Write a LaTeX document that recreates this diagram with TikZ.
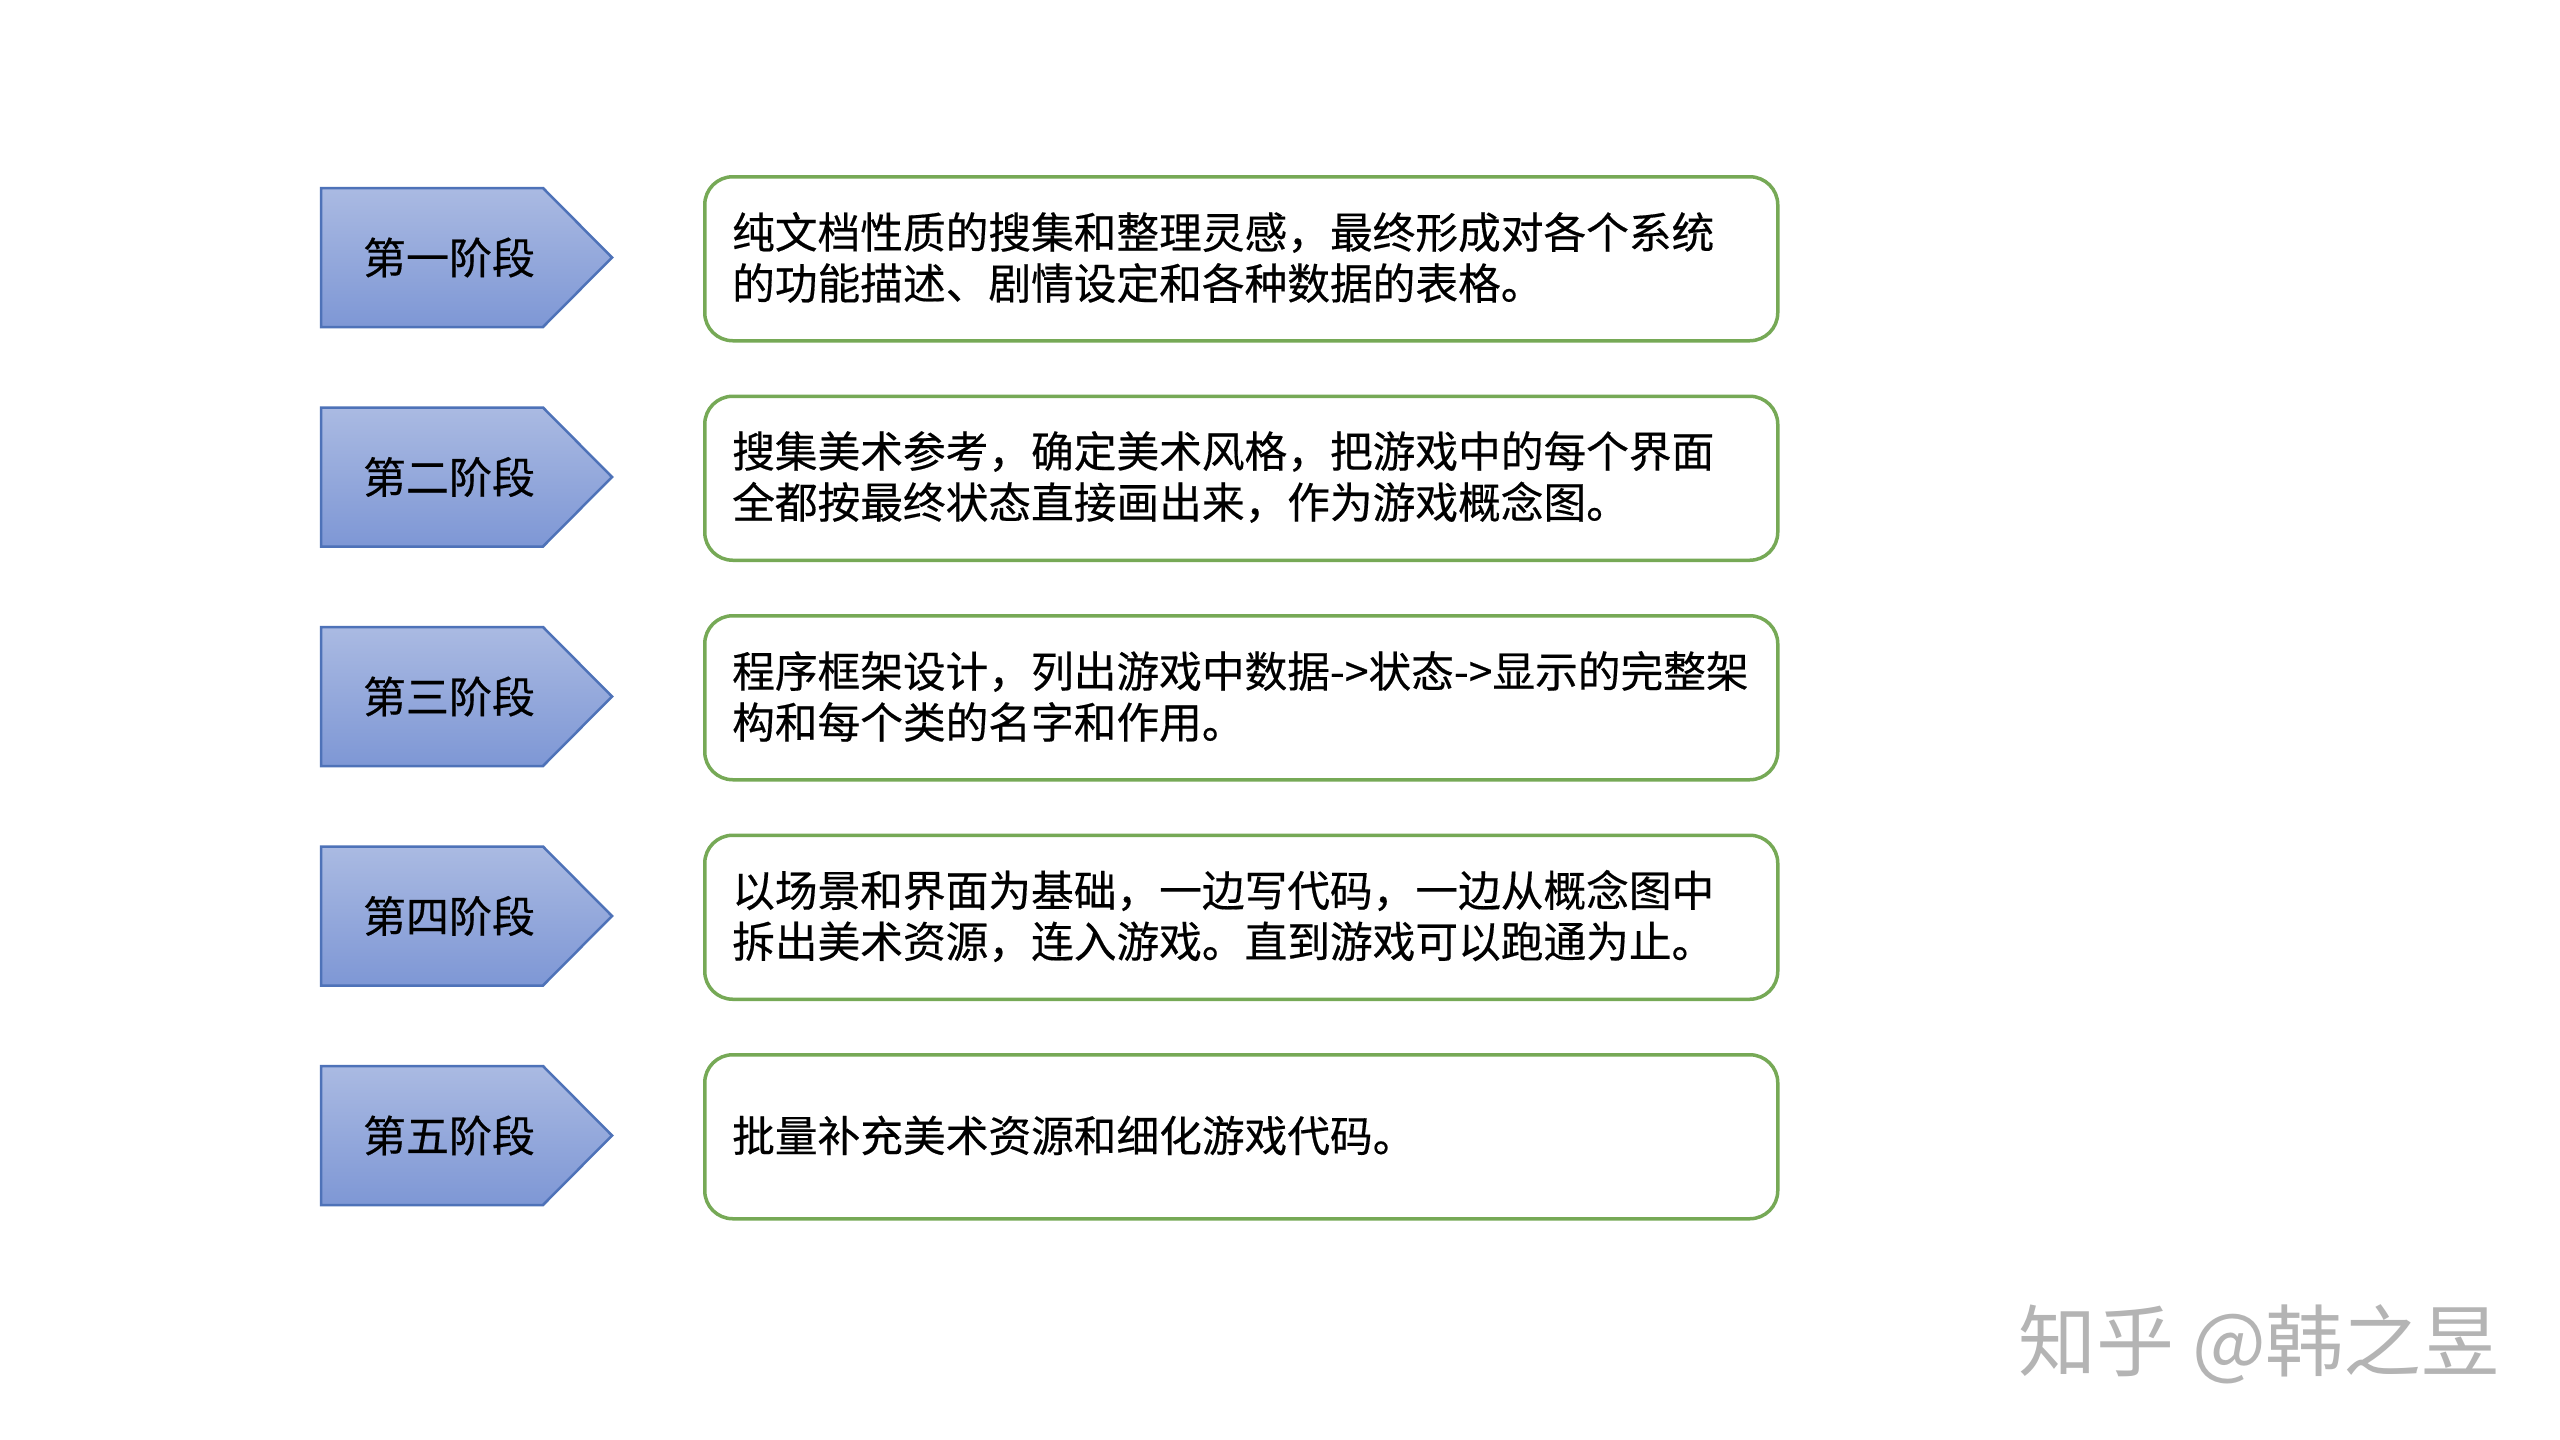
\documentclass[tikz,border=0pt]{standalone}
\usepackage{fontspec}
\setmainfont{Noto Sans CJK SC}[FakeBold=0.4]
\newfontfamily\wmfont{Noto Sans CJK SC}
\definecolor{arrowblue}{HTML}{4E72B8}
\definecolor{atop}{HTML}{AABAE2}
\definecolor{abot}{HTML}{7E97D5}
\definecolor{boxgreen}{HTML}{76A956}
\definecolor{wmgray}{HTML}{B4B4B4}
\begin{document}
\begin{tikzpicture}[x=1pt,y=-1pt,
  stagearrow/.style={draw=arrowblue, line width=2.5pt, top color=atop, bottom color=abot, line join=miter},
  stagelabel/.style={font=\fontsize{43}{50}\selectfont, text=black, inner sep=0pt},
  descbox/.style={draw=boxgreen, line width=3.5pt, rounded corners=28pt, fill=white, minimum width=1073pt, minimum height=164pt, anchor=north west, inner sep=0pt},
  desctext/.style={font=\fontsize{42.7}{51}\selectfont, text=black, anchor=west, align=left, inner sep=0pt}
]
\useasboundingbox[fill=white] (0,0) rectangle (2560,1440);
\foreach \i/\lab/\txt in {
  0/第一阶段/{纯文档性质的搜集和整理灵感，最终形成对各个系统\\的功能描述、剧情设定和各种数据的表格。},
  1/第二阶段/{搜集美术参考，确定美术风格，把游戏中的每个界面\\全都按最终状态直接画出来，作为游戏概念图。},
  2/第三阶段/{程序框架设计，列出游戏中数据->状态->显示的完整架\\构和每个类的名字和作用。},
  3/第四阶段/{以场景和界面为基础，一边写代码，一边从概念图中\\拆出美术资源，连入游戏。直到游戏可以跑通为止。},
  4/第五阶段/{批量补充美术资源和细化游戏代码。}}{
  \pgfmathsetmacro{\ya}{188+219.5*\i}
  \pgfmathsetmacro{\yb}{\ya+139}
  \pgfmathsetmacro{\ym}{\ya+69.5}
  \pgfmathsetmacro{\yt}{175+219.5*\i}
  \path[stagearrow] (321,\ya) -- (543,\ya) -- (612,\ym) -- (543,\yb) -- (321,\yb) -- cycle;
  \node[stagelabel] (stage\i) at (449,\ym) {\lab};
  \node[descbox] (box\i) at (703,\yt) {};
  \node[desctext] (desc\i) at (732,\ym) {\txt};
}
\node[font=\wmfont\fontsize{78}{84}\selectfont, text=wmgray, inner sep=0pt, anchor=east] (wm) at (2500,1344) {知乎 @韩之昱};
\end{tikzpicture}
\end{document}
